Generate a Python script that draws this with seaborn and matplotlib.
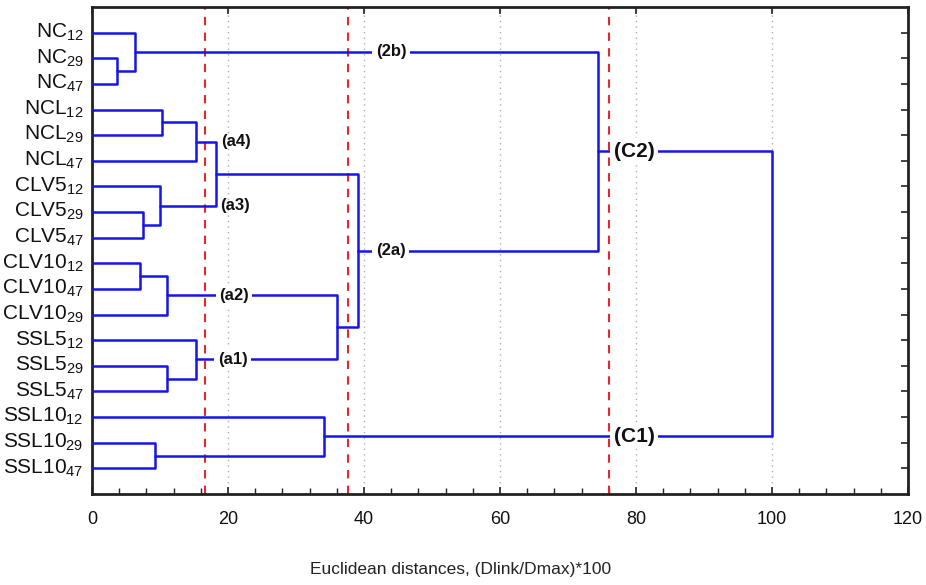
import matplotlib
matplotlib.use("Agg")
import matplotlib.pyplot as plt
import matplotlib.transforms as mtransforms
import seaborn as sns
import pandas as pd
import numpy as np
from matplotlib.ticker import MultipleLocator

# ---------------- data ----------------
leaf_labels = [
    "NC$_{12}$", "NC$_{29}$", "NC$_{47}$",
    "NCL$_{12}$", "NCL$_{29}$", "NCL$_{47}$",
    "CLV5$_{12}$", "CLV5$_{29}$", "CLV5$_{47}$",
    "CLV10$_{12}$", "CLV10$_{47}$", "CLV10$_{29}$",
    "SSL5$_{12}$", "SSL5$_{29}$", "SSL5$_{47}$",
    "SSL10$_{12}$", "SSL10$_{29}$", "SSL10$_{47}$",
]
# merges: (left node, right node); new node ids start at len(leaf_labels)
merge_left = [1, 0, 3, 20, 7, 6, 21, 9, 25, 13, 12, 26, 24, 16, 15, 19, 33]
merge_right = [2, 18, 4, 5, 8, 22, 23, 10, 11, 14, 27, 28, 29, 17, 31, 30, 32]
merge_height = [3.7, 6.3, 10.3, 15.3, 7.5, 10.0, 18.2, 7.1, 11.0, 11.0, 15.3,
                36.0, 39.1, 9.3, 34.1, 74.4, 100.0]

cut_levels = [16.6, 37.7, 76.0]

cluster_names = ["(2b)", "(2a)", "(a4)", "(a3)", "(a2)", "(a1)", "(C2)", "(C1)"]
cluster_nodes = [19, 30, 21, 23, 26, 28, 33, 32]
cluster_xpos = [44.0, 43.9, 21.2, 21.1, 20.9, 20.7, 79.7, 79.7]
cluster_sizes = [12, 12, 12, 12, 12, 12, 15, 15]
cluster_gap = [True, True, False, False, True, True, True, True]

# ---------------- style ----------------
sns.set_theme(style="white")
plt.rcParams["font.family"] = ["Liberation Sans", "DejaVu Sans"]
plt.rcParams["mathtext.fontset"] = "custom"
plt.rcParams["mathtext.rm"] = "Liberation Sans"
plt.rcParams["mathtext.default"] = "rm"

# ---------------- compute dendrogram coordinates ----------------
n = len(leaf_labels)
ypos = {i: i + 1.0 for i in range(n)}
hpos = {i: 0.0 for i in range(n)}
rows = []
for k, (a, b, h) in enumerate(zip(merge_left, merge_right, merge_height)):
    node = n + k
    ya, yb = ypos[a], ypos[b]
    ypos[node] = (ya + yb) / 2.0
    hpos[node] = h
    for xv, yv in [(hpos[a], ya), (h, ya), (h, yb), (hpos[b], yb)]:
        rows.append({"x": xv, "y": yv, "link": k})
df = pd.DataFrame(rows)

# ---------------- figure ----------------
fig = plt.figure(figsize=(9.26, 5.85), dpi=100)
ax = fig.add_axes([92 / 926, 1 - 494 / 585, 816 / 926, 487 / 585])

ax.grid(axis="x", which="major", ls=(0, (1, 3)), color="#b0b0b0", lw=1.0)
ax.grid(axis="y", visible=False)

for c in cut_levels:
    ax.axvline(c, color="#e8272b", ls=(0, (4, 3.5)), lw=1.5, zorder=2)

sns.lineplot(data=df, x="x", y="y", units="link", estimator=None, sort=False,
             color="#1515e6", lw=1.8, ax=ax, legend=False, zorder=3)

for name, node, xp, fs, gap in zip(cluster_names, cluster_nodes, cluster_xpos,
                                    cluster_sizes, cluster_gap):
    bb = dict(facecolor="white", edgecolor="none", pad=2.5) if gap else None
    ax.text(xp, ypos[node], name, ha="center", va="center", fontsize=fs,
            fontweight="bold", color="#111111", zorder=5, bbox=bb)

ax.set_xlim(0, 120)
ax.set_ylim(n + 1, 0)
ax.xaxis.set_major_locator(MultipleLocator(20))
ax.xaxis.set_minor_locator(MultipleLocator(4))
ax.set_yticks([ypos[i] for i in range(n)])
ax.set_yticklabels(leaf_labels)

ax.tick_params(axis="x", which="major", direction="in", length=5, width=1.2,
               top=True, bottom=True, labelsize=13, pad=12, colors="#222222")
ax.tick_params(axis="x", which="minor", direction="in", length=4, width=1.0,
               top=False, bottom=True, colors="#222222")
ax.tick_params(axis="y", which="major", direction="in", length=5, width=1.2,
               left=False, right=True, labelsize=15, pad=6, colors="#222222")
shift = mtransforms.ScaledTranslation(0, 3 / 100, fig.dpi_scale_trans)
for lab in ax.get_yticklabels():
    lab.set_transform(lab.get_transform() + shift)
for lab in ax.get_xticklabels() + ax.get_yticklabels():
    lab.set_color("#111111")

for s in ax.spines.values():
    s.set_visible(True)
    s.set_linewidth(2.0)
    s.set_color("#222222")

ax.set_xlabel("Euclidean distances, (Dlink/Dmax)*100", fontsize=12.5, color="#222222")
ax.set_ylabel("")
ax.xaxis.set_label_coords(0.452, -0.14)

fig.savefig("out.png", dpi=100)
